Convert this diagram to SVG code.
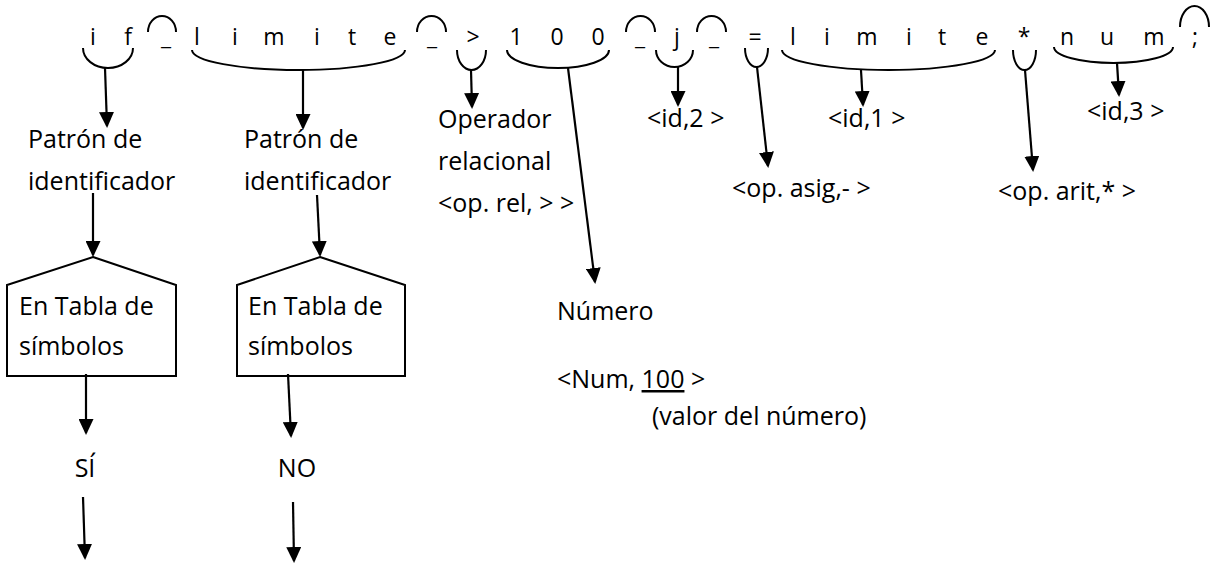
<svg xmlns="http://www.w3.org/2000/svg" width="1213" height="564" viewBox="0 0 1213 564">
<style>
text{font-family:"Open Sans","Noto Sans","Liberation Sans",sans-serif;fill:#000}
.tok{font-size:23px;text-anchor:middle}
.lbl{font-size:25px}
.arc{fill:none;stroke:#000;stroke-width:2}
.box{fill:#fff;stroke:#000;stroke-width:2}
.con{fill:none;stroke:#000;stroke-width:2.2;marker-end:url(#ah)}
</style>
<defs>
<marker id="ah" viewBox="0 0 16 15" refX="14" refY="7.5" markerWidth="16" markerHeight="15" orient="auto" markerUnits="userSpaceOnUse">
<path d="M0,0 L16,7.5 L0,15 z" fill="#000"/>
</marker>
</defs>
<rect width="1213" height="564" fill="#fff"/>

<g id="source-line">
<text class="tok" x="93 128 166 197 235 274 317 352 390 432 473 516 557 598 640 677 714 755 793 827 867 909 942 982 1024 1067 1107 1154 1195" y="45">if_limite_&gt;100_j_=limite*num;</text>
</g>

<g id="token-arcs">
<path class="arc" d="M83,48 A25,20 0 0 0 133,48"/>
<path class="arc" d="M192,50 A106.5,20 0 0 0 405,50"/>
<path class="arc" d="M457,50 A14.5,20 0 0 0 486,50"/>
<path class="arc" d="M507,50 A51,18 0 0 0 609,50"/>
<path class="arc" d="M656,50 A18.5,17 0 0 0 693,50"/>
<path class="arc" d="M745,48 A11.5,19 0 0 0 768,48"/>
<path class="arc" d="M782,50 A106.5,20 0 0 0 995,50"/>
<path class="arc" d="M1013,50 A11.5,20 0 0 0 1036,50"/>
<path class="arc" d="M1054,47 A59.5,16 0 0 0 1173,47"/>
<path class="arc" d="M148,32 A14,16 0 0 1 176,32"/>
<path class="arc" d="M417,32 A14.5,16 0 0 1 446,32"/>
<path class="arc" d="M626,32 A14.5,16 0 0 1 655,32"/>
<path class="arc" d="M697,32 A14.5,16 0 0 1 726,32"/>
<path class="arc" d="M1180,27 A14.5,21 0 0 1 1209,27"/>
</g>

<g id="patron1">
<text class="lbl" x="28" y="148">Patrón de</text>
<text class="lbl" x="28" y="190">identificador</text>
</g>
<g id="patron2">
<text class="lbl" x="244" y="148">Patrón de</text>
<text class="lbl" x="244" y="190">identificador</text>
</g>
<g id="tabla1">
<polygon class="box" points="93,257 176,285 176,376 7,376 7,285"/>
<text class="lbl" x="19" y="315">En Tabla de</text>
<text class="lbl" x="19" y="355">símbolos</text>
</g>
<g id="tabla2">
<polygon class="box" points="320,257 405,285 405,376 237,376 237,285"/>
<text class="lbl" x="248" y="315">En Tabla de</text>
<text class="lbl" x="248" y="355">símbolos</text>
</g>
<g id="si"><text class="lbl" x="85" y="477" text-anchor="middle">SÍ</text></g>
<g id="no"><text class="lbl" x="297" y="477" text-anchor="middle">NO</text></g>
<g id="operador">
<text class="lbl" x="438" y="128">Operador</text>
<text class="lbl" x="438" y="170">relacional</text>
<text class="lbl" x="438" y="212">&lt;op. rel, &gt; &gt;</text>
</g>
<g id="numero">
<text class="lbl" x="557" y="320">Número</text>
<text class="lbl" x="557" y="388">&lt;Num, <tspan text-decoration="underline">100</tspan> &gt;</text>
<text class="lbl" x="652" y="425">(valor del número)</text>
</g>
<g id="id2"><text class="lbl" x="647" y="127">&lt;id,2 &gt;</text></g>
<g id="opasig"><text class="lbl" x="732" y="197">&lt;op. asig,- &gt;</text></g>
<g id="id1"><text class="lbl" x="828" y="127">&lt;id,1 &gt;</text></g>
<g id="id3"><text class="lbl" x="1087" y="120">&lt;id,3 &gt;</text></g>
<g id="oparit"><text class="lbl" x="998" y="200">&lt;op. arit,* &gt;</text></g>

<g id="connectors">
<line class="con" x1="105" y1="68" x2="107" y2="126"/>
<line class="con" x1="303" y1="70" x2="303" y2="128"/>
<line class="con" x1="93" y1="193" x2="93" y2="255"/>
<line class="con" x1="317" y1="195" x2="320" y2="255"/>
<line class="con" x1="86" y1="374" x2="86" y2="433"/>
<line class="con" x1="288" y1="374" x2="291" y2="436"/>
<line class="con" x1="83" y1="497" x2="85" y2="558"/>
<line class="con" x1="293" y1="502" x2="294" y2="561"/>
<line class="con" x1="471" y1="70" x2="472" y2="107"/>
<line class="con" x1="568" y1="68" x2="595" y2="282"/>
<line class="con" x1="678" y1="67" x2="678" y2="105"/>
<line class="con" x1="757" y1="67" x2="768" y2="166"/>
<line class="con" x1="861" y1="70" x2="863" y2="105"/>
<line class="con" x1="1025" y1="70" x2="1033" y2="170"/>
<line class="con" x1="1117" y1="63" x2="1119" y2="95"/>
</g>
</svg>
